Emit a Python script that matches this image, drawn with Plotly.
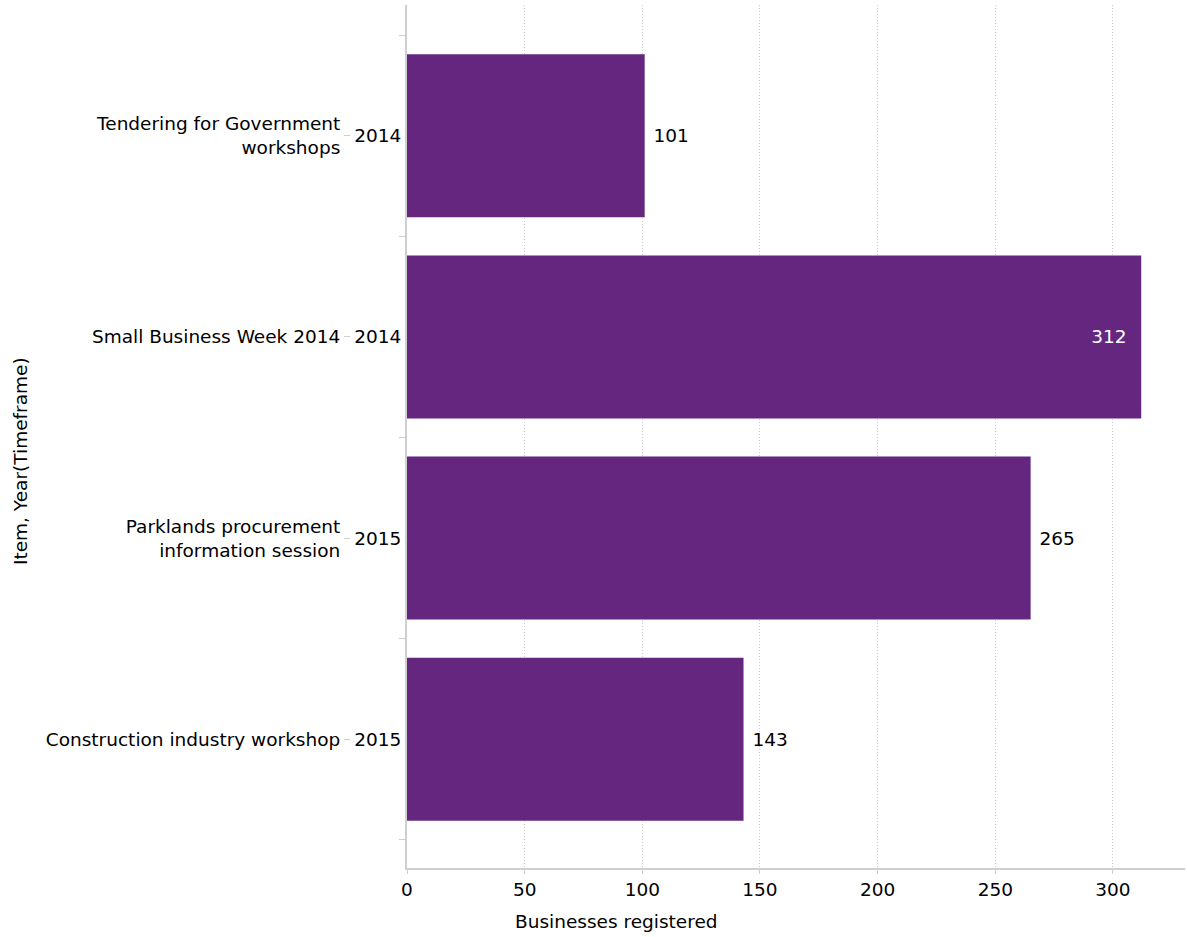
import plotly.graph_objects as go

# Rows listed bottom-to-top as they appear on the axis
items = [
    "Construction industry workshop",
    "Parklands procurement<br>information session",
    "Small Business Week 2014",
    "Tendering for Government<br>workshops",
]
years = ["2015", "2015", "2014", "2014"]
registered = [143, 265, 312, 101]

label_positions = ["outside", "outside", "inside", "outside"]

BAR = "#65267f"
GRID = "#cfcfcf"
FONT = "Verdana, DejaVu Sans, sans-serif"
FS = 18.5
NBSP = "\u00a0"

W, H = 1187, 937
ML, MR, MT, MB = 10, 2, 5, 69
plot_w = W - ML - MR
plot_h = H - MT - MB
axis_left_px = 407
x0 = (axis_left_px - ML) / plot_w


def px_x(px):
    return (px - ML) / plot_w


def px_y(py):
    return (H - MB - py) / plot_h


# Pad value labels away from the bar end
bar_text = [
    (NBSP + str(v)) if pos == "outside" else (str(v) + NBSP * 2)
    for v, pos in zip(registered, label_positions)
]

y_range = [-0.64, 3.65]

fig = go.Figure()
fig.add_trace(go.Bar(
    x=registered,
    y=items,
    orientation="h",
    marker=dict(color=BAR, line=dict(width=0)),
    text=bar_text,
    textposition=label_positions,
    insidetextanchor="end",
    insidetextfont=dict(color="white", size=FS, family=FONT),
    outsidetextfont=dict(color="black", size=FS, family=FONT),
    cliponaxis=False,
    hoverinfo="skip",
    width=0.81,
))
# Invisible companion trace that carries the item-name axis
fig.add_trace(go.Scatter(
    x=registered,
    y=items,
    yaxis="y2",
    mode="markers",
    marker=dict(opacity=0),
    hoverinfo="skip",
    showlegend=False,
))

fig.update_layout(
    width=W,
    height=H,
    margin=dict(l=ML, r=MR, t=MT, b=MB),
    plot_bgcolor="white",
    paper_bgcolor="white",
    showlegend=False,
    font=dict(family=FONT, size=FS, color="black"),
    xaxis=dict(
        domain=[x0, 1],
        range=[0, 330.6],
        tickmode="linear",
        tick0=0,
        dtick=50,
        showgrid=True,
        gridcolor=GRID,
        griddash="1px,2px",
        gridwidth=1,
        zeroline=False,
        showline=True,
        linecolor=GRID,
        linewidth=2,
        ticks="outside",
        ticklen=4,
        tickcolor=GRID,
        tickfont=dict(size=FS, color="black"),
    ),
    yaxis=dict(
        type="category",
        categoryorder="array",
        categoryarray=items,
        range=y_range,
        tickmode="array",
        tickvals=items,
        ticktext=years,
        tickson="boundaries",
        ticks="outside",
        ticklen=6,
        tickcolor=GRID,
        showgrid=False,
        zeroline=False,
        showline=True,
        linecolor=GRID,
        linewidth=2,
        tickfont=dict(size=FS, color="black"),
    ),
    yaxis2=dict(
        type="category",
        categoryorder="array",
        categoryarray=items,
        range=y_range,
        overlaying="y",
        anchor="free",
        position=px_x(350),
        side="left",
        tickmode="array",
        tickvals=items,
        ticktext=items,
        ticks="outside",
        ticklen=6,
        tickcolor=GRID,
        showgrid=False,
        zeroline=False,
        showline=False,
        tickfont=dict(size=FS, color="black"),
    ),
    bargap=0.19,
)

fig.add_annotation(
    text="Item, Year(Timeframe)",
    xref="paper", yref="paper",
    x=px_x(20), y=px_y(461),
    xanchor="center", yanchor="middle",
    textangle=-90,
    showarrow=False,
    font=dict(size=FS, color="black", family=FONT),
)
fig.add_annotation(
    text="Businesses registered",
    xref="paper", yref="paper",
    x=px_x(616), y=px_y(921),
    xanchor="center", yanchor="middle",
    showarrow=False,
    font=dict(size=FS, color="black", family=FONT),
)

fig.write_html("out.html")
